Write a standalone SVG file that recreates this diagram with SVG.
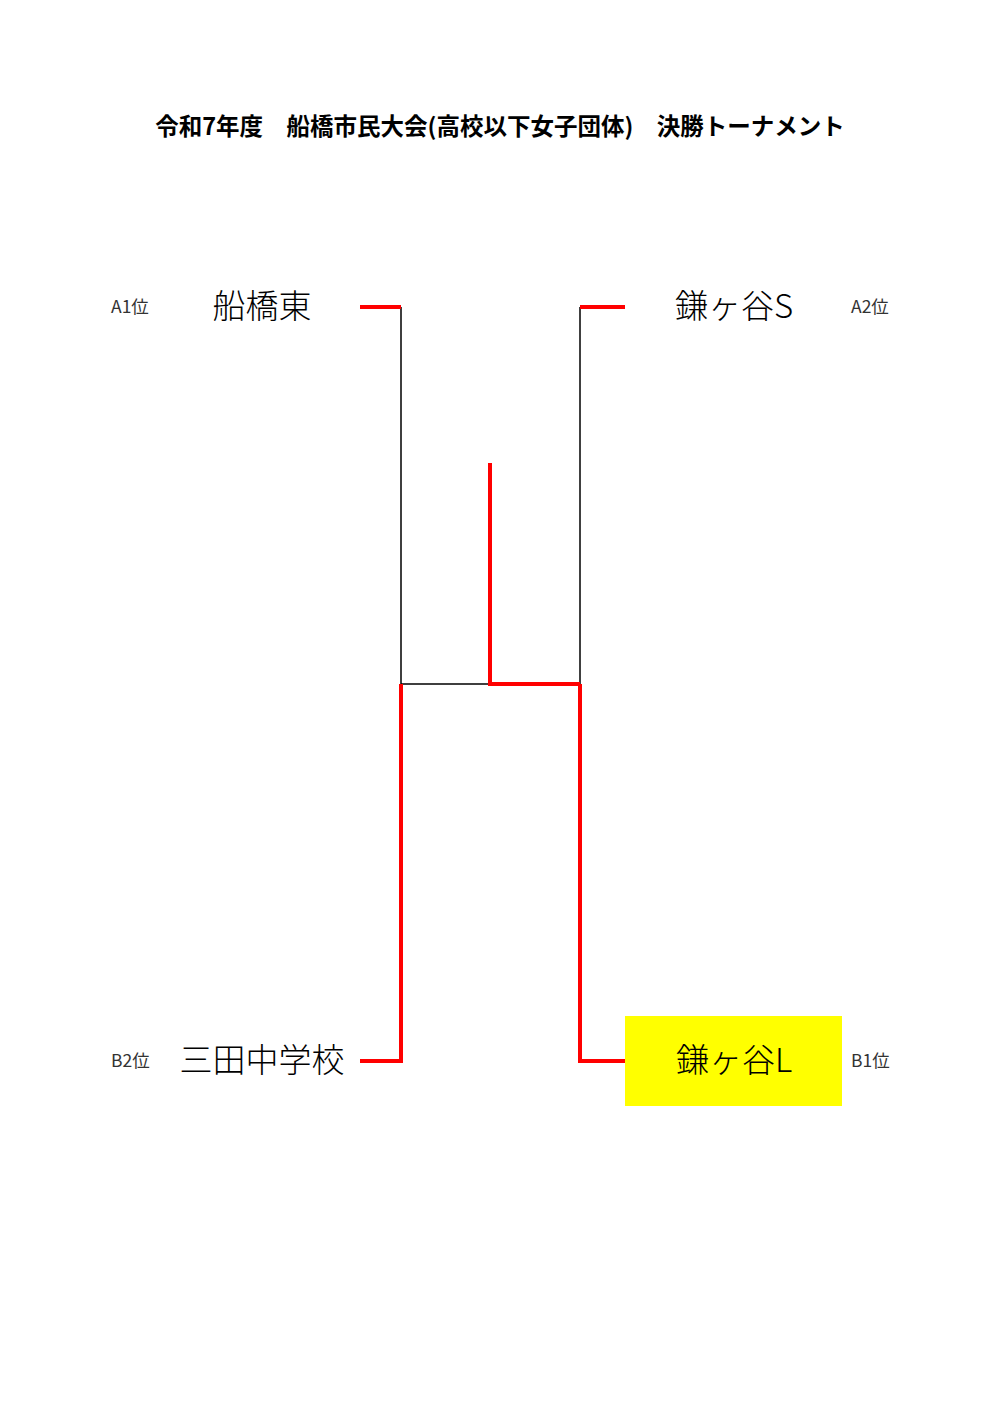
<svg xmlns="http://www.w3.org/2000/svg" width="1000" height="1414" viewBox="0 0 1000 1414">
<style>
.t{font-family:"Noto Sans CJK JP","Noto Sans",sans-serif;fill:#000}
.title{font-size:23.5px;font-weight:bold}
.name{font-size:33px;font-weight:300}
.lab{font-size:17.5px;fill:#333}
.r{stroke:#f00;stroke-width:4;fill:none}
.k{stroke:#000;stroke-width:1.5;fill:none}
</style>
<rect width="1000" height="1414" fill="#fff"/>
<text class="t title" x="500" y="135" text-anchor="middle">令和7年度　船橋市民大会(高校以下女子団体)　決勝トーナメント</text>
<g id="connectors">
<path class="k" d="M401,307 V684 H490"/>
<path class="k" d="M580,307 V684"/>
<path class="r" d="M360,307 H401"/>
<path class="r" d="M580,307 H625"/>
<path class="r" d="M490,463 V684 H580"/>
<path class="r" d="M360,1061 H401 V684"/>
<path class="r" d="M625,1061 H580 V684"/>
</g>
<g id="node-funabashihigashi">
<text class="t lab" x="111" y="313">A1位</text>
<text class="t name" x="262" y="318" text-anchor="middle">船橋東</text>
</g>
<g id="node-kamagayaS">
<text class="t name" x="734" y="318" text-anchor="middle">鎌ヶ谷S</text>
<text class="t lab" x="851" y="313">A2位</text>
</g>
<g id="node-mita">
<text class="t lab" x="111" y="1067">B2位</text>
<text class="t name" x="262" y="1072" text-anchor="middle">三田中学校</text>
</g>
<g id="node-kamagayaL">
<rect x="625" y="1016" width="217" height="90" fill="#ff0"/>
<text class="t name" x="734" y="1072" text-anchor="middle">鎌ヶ谷L</text>
<text class="t lab" x="851" y="1067">B1位</text>
</g>
</svg>
